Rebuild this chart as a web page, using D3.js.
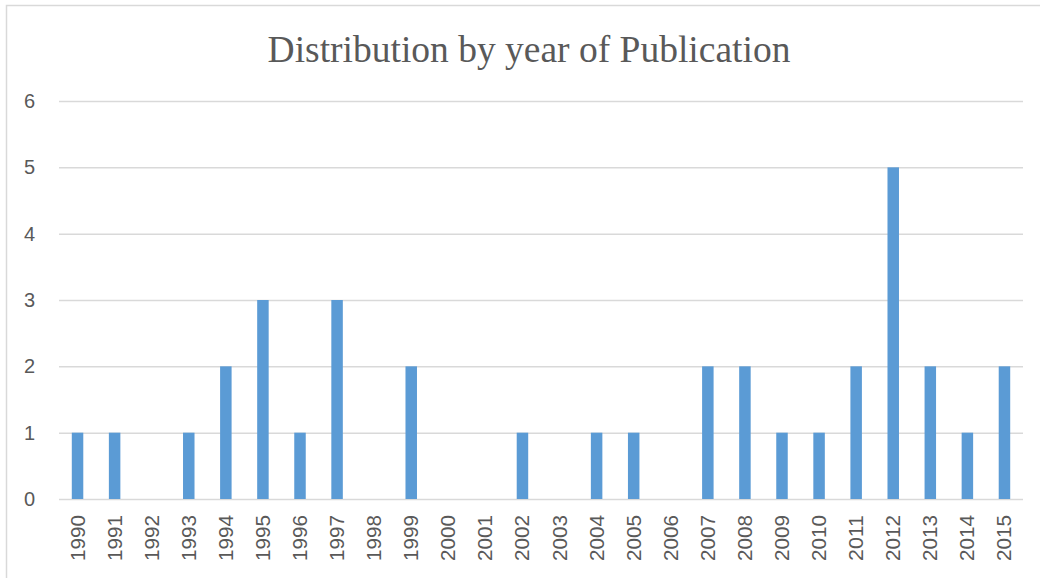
<!DOCTYPE html>
<html lang="en">
<head>
  <meta charset="UTF-8">
  <title>Distribution by year of Publication</title>
  <script src="https://d3js.org/d3.v7.min.js"></script>
  <style>
    body { margin: 0; background: #fff; }
    svg { display: block; }
    .title { font-family: 'Liberation Serif', 'Times New Roman', serif; fill: #595959; }
    .tick text { font-family: 'Liberation Sans', Arial, sans-serif; fill: #595959; }
  </style>
</head>
<body>
  <div id="chart"></div>
  <script>
    // Publications per year
    const years = ["1990","1991","1992","1993","1994","1995","1996","1997","1998","1999","2000","2001","2002",
                   "2003","2004","2005","2006","2007","2008","2009","2010","2011","2012","2013","2014","2015"];
    const counts = [1,1,0,1,2,3,1,3,0,2,0,0,1,0,1,1,0,2,2,1,1,2,5,2,1,2];
    const yTicks = [0,1,2,3,4,5,6];

    const W = 1040, H = 578;
    const plot = { left: 59, right: 1023, top: 101, bottom: 499 };

    const svg = d3.select("#chart").append("svg")
      .attr("width", W)
      .attr("height", H);

    // chart frame (top and left edges visible)
    svg.append("rect")
      .attr("x", 6.5).attr("y", 5.5)
      .attr("width", W + 10).attr("height", H + 10)
      .attr("fill", "none")
      .attr("stroke", "#d9d9d9")
      .attr("stroke-width", 1.5);

    const x = d3.scaleBand()
      .domain(years)
      .range([plot.left, plot.right])
      .paddingInner(0.69)
      .paddingOuter(0.345);

    const y = d3.scaleLinear()
      .domain([0, 6])
      .range([plot.bottom, plot.top]);

    // gridlines + y labels
    const yAxis = svg.append("g")
      .attr("transform", `translate(${plot.left},0)`)
      .call(d3.axisLeft(y).tickValues(yTicks).tickSize(-(plot.right - plot.left)).tickPadding(24).tickFormat(d3.format("d")));
    yAxis.select(".domain").remove();
    yAxis.selectAll(".tick line").attr("stroke", "#d9d9d9").attr("stroke-width", 1.5);
    yAxis.selectAll(".tick text").style("font-size", "20px");

    // bars
    svg.selectAll(".bar")
      .data(years.map((yr, i) => ({ yr, v: counts[i] })))
      .enter()
      .append("rect")
      .attr("class", "bar")
      .attr("x", d => x(d.yr))
      .attr("y", d => y(d.v))
      .attr("width", x.bandwidth())
      .attr("height", d => y(0) - y(d.v))
      .attr("fill", "#5b9bd5");

    // x labels (rotated)
    const xAxis = svg.append("g")
      .attr("transform", `translate(0,${plot.bottom})`)
      .call(d3.axisBottom(x).tickSize(0).tickPadding(0));
    xAxis.select(".domain").remove();
    xAxis.selectAll(".tick text")
      .attr("transform", "rotate(-90)")
      .attr("x", -16)
      .attr("y", 0)
      .attr("dy", "0.35em")
      .attr("text-anchor", "end")
      .attr("textLength", 46)
      .attr("lengthAdjust", "spacingAndGlyphs")
      .style("font-size", "20px");

    // title
    svg.append("text")
      .attr("class", "title")
      .attr("x", 529)
      .attr("y", 62)
      .attr("text-anchor", "middle")
      .style("font-size", "37.5px")
      .text("Distribution by year of Publication");
  </script>
</body>
</html>
